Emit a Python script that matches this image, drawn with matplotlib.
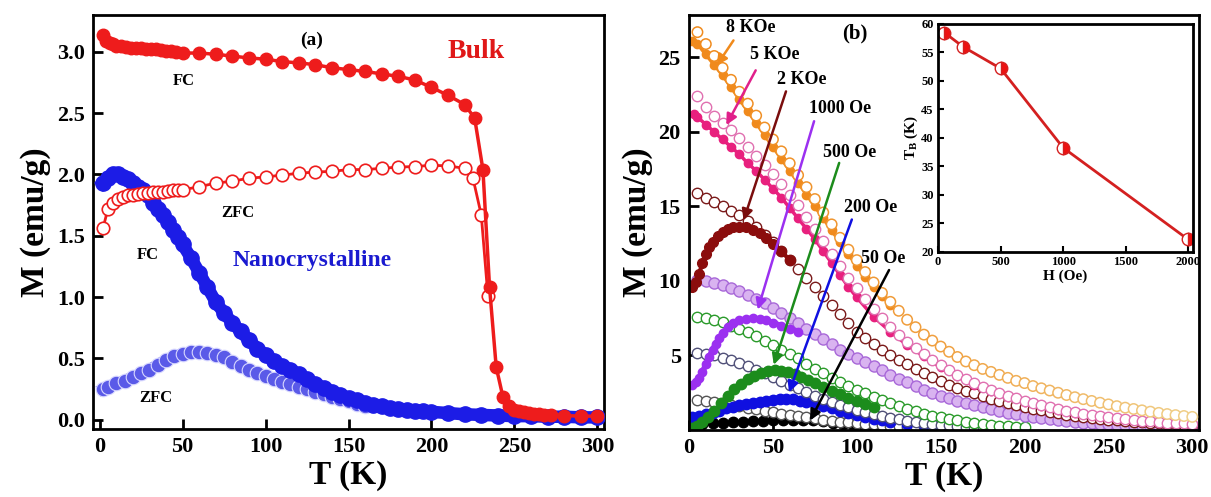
import matplotlib
matplotlib.use("Agg")
import matplotlib.pyplot as plt
from matplotlib.colors import LinearSegmentedColormap

plt.rcParams["font.family"] = ["Liberation Serif", "DejaVu Serif"]
plt.rcParams["font.weight"] = "bold"
plt.rcParams["axes.labelweight"] = "bold"
plt.rcParams["axes.linewidth"] = 2.0

# ---------------- panel (a) data ----------------
T_bulk_fc = [2, 4, 6, 8, 10, 13, 16, 19, 22, 25, 28, 31, 34, 37, 40, 43, 46, 50,
             60, 70, 80, 90, 100, 110, 120, 130, 140, 150, 160, 170, 180, 190, 200,
             210, 220, 226, 231, 235, 239, 243, 247, 250, 253, 256, 259, 262, 265,
             268, 272, 280, 290, 300]
M_bulk_fc = [3.14, 3.09, 3.07, 3.06, 3.05, 3.045, 3.04, 3.035, 3.03, 3.03, 3.025, 3.02,
             3.02, 3.015, 3.01, 3.01, 3.0, 2.99, 2.99, 2.98, 2.965, 2.95, 2.94, 2.92,
             2.91, 2.895, 2.87, 2.855, 2.84, 2.82, 2.80, 2.77, 2.71, 2.645, 2.57, 2.46,
             2.04, 1.08, 0.43, 0.19, 0.11, 0.08, 0.07, 0.06, 0.055, 0.05, 0.045, 0.04,
             0.04, 0.035, 0.03, 0.03]

T_bulk_zfc = [2, 5, 8, 11, 14, 17, 20, 23, 26, 29, 32, 35, 38, 41, 44, 47, 50, 60, 70,
              80, 90, 100, 110, 120, 130, 140, 150, 160, 170, 180, 190, 200, 210, 220,
              225, 230, 234]
M_bulk_zfc = [1.56, 1.72, 1.77, 1.80, 1.82, 1.83, 1.835, 1.84, 1.845, 1.85, 1.855, 1.86,
              1.86, 1.865, 1.87, 1.87, 1.875, 1.90, 1.93, 1.945, 1.97, 1.98, 1.995, 2.01,
              2.02, 2.025, 2.04, 2.04, 2.05, 2.06, 2.065, 2.075, 2.07, 2.05, 1.97, 1.67,
              1.01]

T_nano_fc = [2, 5, 8, 11, 14, 17, 20, 23, 26, 29, 32, 35, 38, 41, 44, 47, 50, 55, 60,
             65, 70, 75, 80, 85, 90, 95, 100, 105, 110, 115, 120, 125, 130, 135, 140,
             145, 150, 155, 160, 165, 170, 175, 180, 185, 190, 195, 200, 210, 220, 230,
             240, 250, 260, 270, 280, 290, 300]
M_nano_fc = [1.93, 1.97, 2.0, 2.0, 1.98, 1.96, 1.93, 1.9, 1.87, 1.83, 1.77, 1.72, 1.67,
             1.61, 1.55, 1.49, 1.43, 1.32, 1.20, 1.08, 0.96, 0.87, 0.79, 0.72, 0.65, 0.58,
             0.53, 0.48, 0.44, 0.41, 0.37, 0.33, 0.29, 0.26, 0.23, 0.2, 0.18, 0.16, 0.14,
             0.12, 0.11, 0.1, 0.09, 0.08, 0.075, 0.07, 0.065, 0.055, 0.045, 0.04, 0.035,
             0.03, 0.03, 0.025, 0.025, 0.02, 0.02]

T_nano_zfc = [2, 5, 10, 15, 20, 25, 30, 35, 40, 45, 50, 55, 60, 65, 70, 75, 80, 85, 90,
              95, 100, 105, 110, 115, 120, 125, 130, 135, 140, 145, 150, 155, 160]
M_nano_zfc = [0.25, 0.27, 0.30, 0.32, 0.35, 0.38, 0.41, 0.45, 0.49, 0.52, 0.54, 0.55,
              0.55, 0.545, 0.53, 0.51, 0.47, 0.44, 0.41, 0.38, 0.36, 0.33, 0.31, 0.29,
              0.27, 0.25, 0.23, 0.21, 0.19, 0.17, 0.15, 0.13, 0.11]

# ---------------- panel (b) data ----------------
T_b = list(range(5, 305, 5))
fc_8k = [26.7, 25.9, 25.1, 24.3, 23.5, 22.7, 21.9, 21.1, 20.3, 19.5, 18.7, 17.9, 17.1,
         16.3, 15.5, 14.6, 13.8, 12.9, 12.1, 11.4, 10.6, 9.9, 9.2, 8.6, 8.0, 7.4, 6.9,
         6.4, 6.0, 5.6, 5.25, 4.9, 4.6, 4.35, 4.1, 3.9, 3.7, 3.5, 3.3, 3.15, 2.95, 2.8,
         2.65, 2.5, 2.35, 2.2, 2.07, 1.95, 1.83, 1.72, 1.6, 1.5, 1.41, 1.32, 1.23, 1.15,
         1.07, 1.0, 0.94, 0.88]
fc_5k = [22.4, 21.7, 21.1, 20.6, 20.1, 19.6, 19.0, 18.4, 17.8, 17.2, 16.5, 15.8, 15.1,
         14.3, 13.5, 12.7, 11.8, 11.0, 10.2, 9.5, 8.8, 8.1, 7.5, 6.9, 6.4, 5.9, 5.5, 5.1,
         4.7, 4.35, 4.0, 3.7, 3.4, 3.15, 2.9, 2.7, 2.5, 2.3, 2.12, 1.95, 1.8, 1.66, 1.53,
         1.41, 1.3, 1.2, 1.1, 1.02, 0.94, 0.87, 0.8, 0.74, 0.68, 0.63, 0.58, 0.54, 0.5,
         0.47, 0.44, 0.41]
fc_2k = [15.9, 15.6, 15.3, 15.0, 14.7, 14.4, 14.0, 13.6, 13.1, 12.6, 12.0, 11.4, 10.8,
         10.2, 9.6, 9.0, 8.4, 7.8, 7.2, 6.6, 6.2, 5.8, 5.4, 5.05, 4.7, 4.4, 4.1, 3.8,
         3.55, 3.3, 3.05, 2.85, 2.65, 2.45, 2.27, 2.1, 1.95, 1.8, 1.67, 1.55, 1.43, 1.32,
         1.22, 1.12, 1.03, 0.95, 0.88, 0.81, 0.75, 0.69, 0.64, 0.59, 0.55, 0.51, 0.47,
         0.44, 0.41, 0.38, 0.36, 0.34]
fc_1000 = [10.1, 10.0, 9.85, 9.7, 9.5, 9.3, 9.05, 8.8, 8.5, 8.2, 7.85, 7.5, 7.15, 6.8,
           6.45, 6.1, 5.75, 5.4, 5.1, 4.8, 4.55, 4.3, 4.0, 3.7, 3.45, 3.2, 2.95, 2.7, 2.5,
           2.3, 2.12, 1.95, 1.8, 1.65, 1.52, 1.4, 1.27, 1.15, 1.05, 0.95, 0.86, 0.78,
           0.71, 0.64, 0.58, 0.53, 0.48, 0.44, 0.4, 0.37, 0.34, 0.31, 0.29, 0.27, 0.25,
           0.23, 0.22, 0.21, 0.2, 0.19]
fc_500 = [7.6, 7.5, 7.4, 7.25, 7.0, 6.8, 6.55, 6.3, 6.0, 5.7, 5.4, 5.1, 4.8, 4.45, 4.1,
          3.8, 3.5, 3.2, 2.95, 2.7, 2.45, 2.2, 2.0, 1.8, 1.6, 1.42, 1.26, 1.1, 0.97, 0.85,
          0.74, 0.64, 0.55, 0.47, 0.4, 0.34, 0.29, 0.25, 0.21, 0.18]
fc_200 = [5.2, 5.1, 5.0, 4.85, 4.7, 4.5, 4.3, 4.05, 3.8, 3.55, 3.3, 3.05, 2.8, 2.55, 2.3,
          2.1, 1.9, 1.7, 1.52, 1.36, 1.2, 1.06, 0.93, 0.82, 0.72, 0.63, 0.55, 0.48, 0.42,
          0.36, 0.31, 0.27, 0.23, 0.2, 0.17, 0.15]
fc_50 = [2.0, 1.95, 1.85, 1.78, 1.7, 1.6, 1.5, 1.4, 1.3, 1.2, 1.1, 1.0, 0.92, 0.85, 0.78,
         0.7, 0.63, 0.57, 0.51, 0.46, 0.41, 0.37, 0.33, 0.29, 0.26, 0.23, 0.2, 0.18,
         0.16, 0.14]

T_zfc_8k = [2, 5, 10, 15, 20, 25, 30, 35, 40, 45, 50, 55, 60, 65, 70, 75, 80, 85, 90,
            95, 100, 105, 110, 115, 120]
zfc_8k = [26.1, 25.9, 25.2, 24.5, 23.8, 23.0, 22.2, 21.4, 20.6, 19.8, 19.0, 18.2, 17.4,
          16.6, 15.8, 15.0, 14.2, 13.4, 12.6, 11.8, 11.0, 10.3, 9.6, 9.0, 8.4]
T_zfc_5k = [3, 5, 10, 15, 20, 25, 30, 35, 40, 45, 50, 55, 60, 65, 70, 75, 80, 85, 90,
            95, 100, 110, 120, 130, 140, 150, 160, 170, 180, 190, 200, 210, 220, 230,
            240, 250, 260, 270, 280, 290, 300]
zfc_5k = [21.2, 21.0, 20.5, 20.0, 19.5, 19.0, 18.5, 17.9, 17.4, 16.8, 16.2, 15.6, 14.9,
          14.2, 13.5, 12.8, 12.0, 11.2, 10.4, 9.6, 8.9, 7.6, 6.6, 5.7, 4.95, 4.2, 3.6,
          3.05, 2.6, 2.2, 1.85, 1.58, 1.35, 1.15, 0.98, 0.84, 0.72, 0.62, 0.53, 0.46, 0.4]
T_zfc_2k = [2, 4, 6, 8, 10, 12, 14, 17, 20, 23, 26, 30, 34, 38, 42, 46, 50, 55, 60]
zfc_2k = [9.6, 9.9, 10.5, 11.2, 11.8, 12.3, 12.6, 13.0, 13.3, 13.5, 13.6, 13.65, 13.6,
          13.45, 13.2, 12.9, 12.5, 12.0, 11.4]
T_zfc_1000 = [2, 4, 6, 8, 10, 12, 14, 16, 18, 20, 23, 26, 30, 34, 38, 42, 46, 50, 55, 60, 65]
zfc_1000 = [3.0, 3.2, 3.5, 3.9, 4.4, 4.9, 5.4, 5.8, 6.2, 6.5, 6.9, 7.15, 7.35, 7.45, 7.5,
            7.45, 7.35, 7.2, 7.0, 6.8, 6.6]
T_zfc_500 = [2, 5, 8, 11, 15, 19, 23, 27, 31, 35, 39, 43, 47, 51, 55, 59, 63, 67, 71, 75,
             80, 85, 90, 95, 100, 105, 110]
zfc_500 = [0.15, 0.3, 0.55, 0.9, 1.3, 1.8, 2.3, 2.75, 3.1, 3.4, 3.65, 3.85, 3.95, 4.0,
           3.98, 3.9, 3.75, 3.55, 3.35, 3.15, 2.9, 2.65, 2.4, 2.15, 1.95, 1.75, 1.55]
T_zfc_200 = [2, 6, 10, 14, 18, 22, 26, 30, 34, 38, 42, 46, 50, 54, 58, 62, 66, 70, 75, 80,
             85, 90, 95, 100, 105, 110, 115, 120, 130, 140, 150, 160, 170]
zfc_200 = [0.85, 0.95, 1.05, 1.15, 1.3, 1.45, 1.55, 1.65, 1.75, 1.8, 1.9, 1.95, 2.0, 2.05,
           2.05, 2.05, 1.95, 1.85, 1.75, 1.6, 1.45, 1.3, 1.15, 1.0, 0.88, 0.76, 0.65,
           0.56, 0.42, 0.32, 0.24, 0.18, 0.13]
T_zfc_50 = [3, 8, 14, 20, 26, 32, 38, 44, 50, 56, 62, 68, 74, 80, 86, 92, 98, 104, 110,
            116, 122]
zfc_50 = [0.35, 0.42, 0.47, 0.5, 0.52, 0.55, 0.58, 0.62, 0.65, 0.68, 0.7, 0.68, 0.64,
          0.58, 0.5, 0.42, 0.35, 0.28, 0.22, 0.17, 0.12]

# inset: blocking temperature vs field
H_inset = [50, 200, 500, 1000, 2000]
TB_inset = [58.5, 56.0, 52.2, 38.3, 22.2]

# field labels, arrow start / arrow tip in data coords (T, M)
labels_b = ["8 KOe", "5 KOe", "2 KOe", "1000 Oe", "500 Oe", "200 Oe", "50 Oe"]
label_pos = [(37, 27.0), (51, 25.2), (67, 23.5), (90, 21.6), (96, 18.6), (108, 14.9), (116, 11.5)]
arrow_from = [(27.4, 26.3), (40.5, 24.3), (58.3, 22.9), (75, 20.9), (90, 18.1), (97.6, 14.3), (120, 10.9)]
arrow_to = [(15.5, 24.3), (21.4, 20.3), (32, 13.9), (40.5, 7.9), (50, 4.2), (59, 2.35), (71.4, 0.47)]
arrow_cols = ["#f08a1c", "#e0208a", "#7a0d0d", "#9b30f0", "#1c8c1c", "#1010e0", "black"]

RED = "#ee1c1c"
BLUE = "#1c1ce6"

fig = plt.figure(figsize=(12.11, 4.97), dpi=100)

# ---------------- panel (a) ----------------
ax = fig.add_axes([0.0768, 0.1368, 0.4220, 0.8330])
ax.plot(T_nano_zfc, M_nano_zfc, "-", color="#5a5ae8", lw=8, zorder=2)
ax.plot(T_nano_zfc, M_nano_zfc, "o", mfc="#5a5ae8", mec="#d8d8ff", ms=10.5, mew=0.8, zorder=3)
ax.plot(T_nano_fc, M_nano_fc, "-o", color=BLUE, lw=9, ms=11, zorder=4)
ax.plot(T_bulk_zfc, M_bulk_zfc, "-o", color=RED, mfc="white", mec=RED, lw=2, ms=9, mew=1.2, zorder=5)
ax.plot(T_bulk_fc, M_bulk_fc, "-o", color=RED, lw=2.5, ms=9, zorder=6)

ax.text(128, 3.09, "(a)", fontsize=14, ha="center", va="center")
ax.text(227, 3.0, "Bulk", fontsize=20, color="#e01818", ha="center", va="center")
ax.text(51, 2.76, "FC", fontsize=12, ha="center", va="center")
ax.text(83, 1.69, "ZFC", fontsize=12, ha="center", va="center")
ax.text(29, 1.34, "FC", fontsize=12, ha="center", va="center")
ax.text(128, 1.30, "Nanocrystalline", fontsize=17, color="#1a1ad0", ha="center", va="center")
ax.text(34, 0.18, "ZFC", fontsize=12, ha="center", va="center")

ax.set_xlim(-4, 304)
ax.set_ylim(-0.075, 3.3)
ax.set_xticks([0, 50, 100, 150, 200, 250, 300])
ax.set_yticks([0.0, 0.5, 1.0, 1.5, 2.0, 2.5, 3.0])
ax.set_yticklabels(["0.0", "0.5", "1.0", "1.5", "2.0", "2.5", "3.0"])
ax.tick_params(direction="in", length=7, width=2, labelsize=16, pad=6)
ax.set_xlabel("T (K)", fontsize=24, labelpad=2)
ax.set_ylabel("M (emu/g)", fontsize=24, labelpad=4)

# ---------------- panel (b) ----------------
bx = fig.add_axes([0.5690, 0.1348, 0.4211, 0.8350])
bx.plot(T_zfc_50, zfc_50, "o", color="black", ms=7.5)
bx.plot(T_b[:len(fc_50)], fc_50, "o", mfc="white", mec="#555555", ms=7.5, mew=1.0)
bx.plot(T_zfc_200, zfc_200, "o", color="#1010e0", ms=7.5)
bx.plot(T_b[:len(fc_200)], fc_200, "o", mfc="white", mec="#505078", ms=7.5, mew=1.0)
bx.plot(T_zfc_500, zfc_500, "o", color="#1c8c1c", ms=7.5)
bx.plot(T_b[:len(fc_500)], fc_500, "o", mfc="white", mec="#2a9a2a", ms=7.5, mew=1.0)
bx.plot(T_b, fc_1000, "o", mfc="#d9b3f0", mec="#a868d8", ms=8, mew=1.0)
bx.plot(T_zfc_1000, zfc_1000, "-o", color="#9b30f0", lw=4, ms=6)
bx.plot(T_b, fc_2k, "o", mfc="white", mec="#7a1a1a", ms=7.5, mew=1.0)
bx.plot(T_zfc_2k, zfc_2k, "-o", color="#8b0d0d", lw=3, ms=7)
bx.plot(T_zfc_5k, zfc_5k, "-o", color="#e8207e", lw=2.5, ms=6)
bx.plot(T_b, fc_5k, "o", mfc="white", mec="#e070b0", ms=7.5, mew=1.0)
bx.plot(T_zfc_8k, zfc_8k, "-o", color="#f08a1c", lw=2.5, ms=6)
# 8 KOe open circles fade from orange to pale yellow towards high T
fade = LinearSegmentedColormap.from_list("fade", ["#f08a1c", "#f0a040", "#f0d08a"])
bx.scatter(T_b, fc_8k, s=56, facecolors="white", edgecolors=fade([t / 300 for t in T_b]),
           linewidths=1.1, zorder=3)

for lab, p, a0, a1, c in zip(labels_b, label_pos, arrow_from, arrow_to, arrow_cols):
    bx.text(p[0], p[1], lab, fontsize=13, ha="center", va="center")
    bx.annotate("", xy=a1, xytext=a0,
                arrowprops=dict(arrowstyle="-|>", color=c, lw=1.8, mutation_scale=16))
bx.text(99, 26.6, "(b)", fontsize=15, ha="center", va="center")

bx.set_xlim(0, 304)
bx.set_ylim(0, 27.85)
bx.set_xticks([0, 50, 100, 150, 200, 250, 300])
bx.set_yticks([5, 10, 15, 20, 25])
bx.tick_params(direction="in", length=7, width=2, labelsize=16, pad=6)
bx.set_xlabel("T (K)", fontsize=24, labelpad=2)
bx.set_ylabel("M (emu/g)", fontsize=24, labelpad=4)

# ---------------- inset ----------------
ix = fig.add_axes([0.7746, 0.4930, 0.2106, 0.4588])
ix.plot(H_inset, TB_inset, "-o", color="#d42020", lw=2, ms=9, mfc="#ee1111",
        mfcalt="white", fillstyle="right", mec="#d42020", mew=1.0)
ix.set_xlim(0, 2040)
ix.set_ylim(20, 60)
ix.set_xticks([0, 500, 1000, 1500, 2000])
ix.set_yticks([20, 25, 30, 35, 40, 45, 50, 55, 60])
ix.tick_params(direction="in", length=4, width=1.5, labelsize=9, pad=3)
for s in ix.spines.values():
    s.set_linewidth(2)
ix.set_xlabel("H (Oe)", fontsize=11, labelpad=1)
ix.set_ylabel(r"T$_\mathregular{B}$ (K)", fontsize=11, labelpad=1)

fig.savefig("out.png", dpi=100)
